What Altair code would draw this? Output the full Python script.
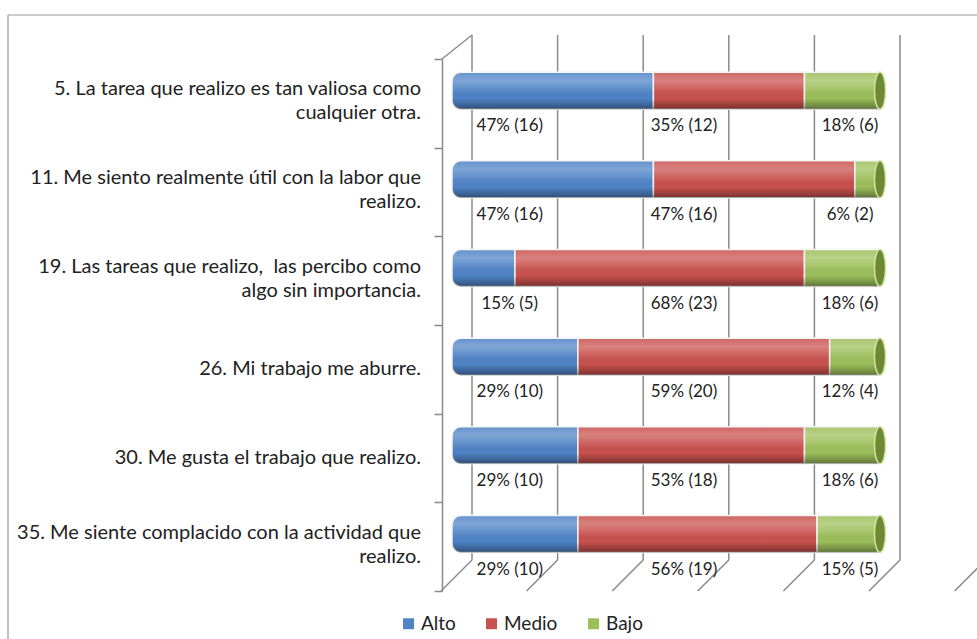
import altair as alt
import pandas as pd

# ---------------- data ----------------
QUESTIONS = [
    "5. La tarea que realizo es tan valiosa como\ncualquier otra.",
    "11. Me siento realmente útil con la labor que\nrealizo.",
    "19. Las tareas que realizo,\u00a0 las percibo como\nalgo sin importancia.",
    "26. Mi trabajo me aburre.",
    "30. Me gusta el trabajo que realizo.",
    "35. Me siente complacido con la actividad que\nrealizo.",
]
SERIES = ["Alto", "Medio", "Bajo"]
ALTO_N = [16, 16, 5, 10, 10, 10]
MEDIO_N = [12, 16, 23, 20, 18, 19]
BAJO_N = [6, 2, 6, 4, 6, 5]
ALTO_PCT = [47, 47, 15, 29, 29, 29]
MEDIO_PCT = [35, 47, 68, 59, 53, 56]
BAJO_PCT = [18, 6, 18, 12, 18, 15]
GRID_TICKS = [0, 20, 40, 60, 80, 100, 120]

# ---------------- style / layout constants ----------------
COLORS = ["#4f83c6", "#c9514e", "#9cbf5a"]
LABEL_ANCHOR = {"Alto": 13.5, "Medio": 54.2, "Bajo": 93.0}   # label columns (% units)
FONT = "Lato"
GRAY = "#8a8a8a"
W, H = 525, 532
X_MAX = 122.66
BAR_SHIFT = -12.7
BAR_SIZE = 37
ELLIPSE = "M0,-1A0.3,1,0,1,1,0,1A0.3,1,0,1,1,0,-1Z"
QLABEL_X = -31   # right edge of category labels, left of the front axis

rows = []
for i, q in enumerate(QUESTIONS):
    for j, (s, n, p) in enumerate(zip(SERIES, [ALTO_N[i], MEDIO_N[i], BAJO_N[i]],
                                        [ALTO_PCT[i], MEDIO_PCT[i], BAJO_PCT[i]])):
        rows.append({"q": q, "serie": s, "idx": j, "n": n, "pct": p,
                     "anchor": LABEL_ANCHOR[s]})
df = pd.DataFrame(rows)
qdf = pd.DataFrame({"q": QUESTIONS})

xs = alt.Scale(domain=[0, X_MAX], nice=False, zero=False)
ys = alt.Scale(domain=QUESTIONS, paddingInner=0, paddingOuter=0)
color = alt.Color("serie:N", scale=alt.Scale(domain=SERIES, range=COLORS),
                  legend=alt.Legend(orient="none", legendX=-53, legendY=555,
                                    direction="horizontal", title=None,
                                    symbolType="square", symbolSize=120,
                                    symbolStrokeWidth=0, labelFontSize=19,
                                    labelFont=FONT, labelColor="#222",
                                    columnPadding=26, labelOffset=3))

base = alt.Chart(df).transform_joinaggregate(
    total="sum(n)", groupby=["q"]
).transform_window(
    cum="sum(n)", sort=[alt.SortField("idx")], groupby=["q"], frame=[None, 0]
).transform_calculate(
    x1="(datum.cum - datum.n) / datum.total * 100",
    x2="datum.cum / datum.total * 100",
    lab="datum.pct + '% (' + datum.n + ')'",
)

yenc = alt.Y("q:N", scale=ys, sort=QUESTIONS, title=None,
             axis=alt.Axis(offset=10, tickBand="extent", tickSize=8,
                           tickColor=GRAY, domainColor=GRAY, domainWidth=1.5,
                           tickWidth=1.5, labels=False, grid=False))

grid_df = pd.DataFrame({"g": GRID_TICKS})
xg = alt.X("g:Q", scale=xs, axis=None)

frame_top = alt.Chart(grid_df.head(1)).mark_rule(color="#999", strokeWidth=1.2).encode(
    x=alt.value(-444), x2=alt.value(W + 10), y=alt.value(-44))
frame_left = alt.Chart(grid_df.head(1)).mark_rule(color="#999", strokeWidth=1.2).encode(
    x=alt.value(-444), y=alt.value(-44), y2=alt.value(H + 60))

walls = alt.Chart(grid_df).mark_rule(color=GRAY, strokeWidth=1.5, xOffset=20).encode(
    x=xg, y=alt.value(-24), y2=alt.value(501))
floor = alt.Chart(grid_df).mark_rule(color=GRAY, strokeWidth=1.5,
                                     xOffset=20, x2Offset=-11).encode(
    x=xg, x2="g:Q", y=alt.value(501), y2=alt.value(H))
diag = alt.Chart(grid_df.head(1)).mark_rule(color=GRAY, strokeWidth=1.5,
                                            xOffset=-10, x2Offset=20).encode(
    x=xg, x2="g:Q", y=alt.value(0), y2=alt.value(-24))

GRAD = {"gradient": "linear", "x1": 0, "y1": 0, "x2": 0, "y2": 1,
        "stops": [
            {"offset": 0.0, "color": "rgba(255,255,255,0.12)"},
            {"offset": 0.22, "color": "rgba(255,255,255,0.28)"},
            {"offset": 0.45, "color": "rgba(255,255,255,0.10)"},
            {"offset": 0.7, "color": "rgba(0,0,0,0.0)"},
            {"offset": 0.9, "color": "rgba(0,0,0,0.25)"},
            {"offset": 1.0, "color": "rgba(0,0,0,0.42)"}]}

xenc = alt.X("x1:Q", scale=xs, axis=None)
bar_alto = base.transform_filter("datum.serie == 'Alto'").mark_bar(
    size=BAR_SIZE, yOffset=BAR_SHIFT, cornerRadiusTopLeft=9,
    cornerRadiusBottomLeft=9, stroke="#f4f4f4", strokeWidth=1.5).encode(
    x=xenc, x2="x2:Q", y=yenc, color=color)
bar_rest = base.transform_filter("datum.serie != 'Alto'").mark_bar(
    size=BAR_SIZE, yOffset=BAR_SHIFT, stroke="#f4f4f4", strokeWidth=1.5).encode(
    x=xenc, x2="x2:Q", y=yenc, color=color)
sh_alto = base.transform_filter("datum.serie == 'Alto'").mark_bar(
    size=BAR_SIZE, yOffset=BAR_SHIFT, cornerRadiusTopLeft=9,
    cornerRadiusBottomLeft=9, fill=GRAD).encode(x=xenc, x2="x2:Q", y=yenc)
sh_rest = base.transform_filter("datum.serie != 'Alto'").mark_bar(
    size=BAR_SIZE, yOffset=BAR_SHIFT, fill=GRAD).encode(x=xenc, x2="x2:Q", y=yenc)

caps = base.transform_filter("datum.serie == 'Bajo'").mark_point(
    shape=ELLIPSE, size=BAR_SIZE * BAR_SIZE, filled=True, fill="#6c8a33",
    stroke="#d2e5a0", strokeWidth=1.5, opacity=1, yOffset=BAR_SHIFT).encode(
    x=alt.X("x2:Q", scale=xs, axis=None), y=yenc)

labels = base.mark_text(font=FONT, fontSize=17, color="#222", dy=23,
                        align="center", baseline="middle").encode(
    x=alt.X("anchor:Q", scale=xs, axis=None), y=yenc, text="lab:N")

# category labels (two-line ones are split into two text rows)
qbase = alt.Chart(qdf).transform_calculate(
    parts="split(datum.q, '\\n')"
).transform_calculate(
    l1="datum.parts[0]",
    l2="length(datum.parts) > 1 ? datum.parts[1] : ''",
)
qtext = dict(font=FONT, fontSize=20, color="#222", align="right", baseline="middle")
q_single = qbase.transform_filter("datum.l2 == ''").mark_text(**qtext).encode(
    x=alt.value(QLABEL_X), y=yenc, text="l1:N")
q_first = qbase.transform_filter("datum.l2 != ''").mark_text(dy=-14, **qtext).encode(
    x=alt.value(QLABEL_X), y=yenc, text="l1:N")
q_second = qbase.transform_filter("datum.l2 != ''").mark_text(dy=10, **qtext).encode(
    x=alt.value(QLABEL_X), y=yenc, text="l2:N")

chart = alt.layer(
    frame_top, frame_left, walls, floor, diag,
    bar_alto, bar_rest, sh_alto, sh_rest, caps, labels,
    q_single, q_first, q_second
).properties(
    width=W, height=H,
    padding={"left": 452, "top": 59, "right": 0, "bottom": 48},
    autosize=alt.AutoSizeParams(type="none"),
    background="white",
).configure_view(stroke=None)

chart.save("out.html", embed_options={"renderer": "svg", "actions": False})
